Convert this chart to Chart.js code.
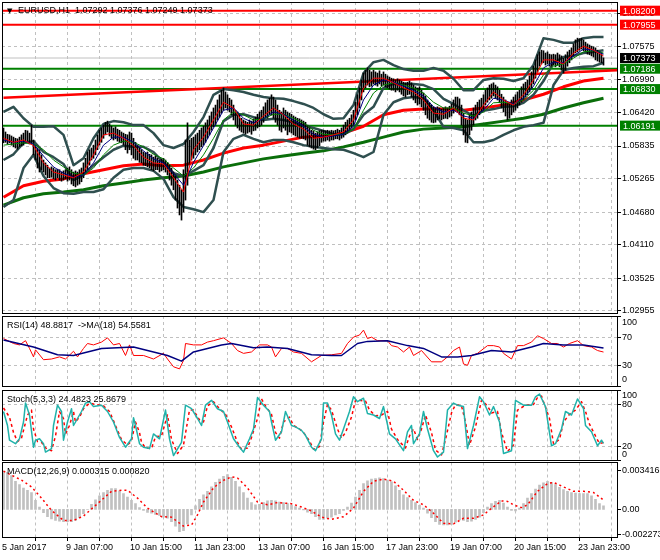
<!DOCTYPE html>
<html>
<head>
<meta charset="utf-8">
<title>EURUSD,H1</title>
<script src="https://cdn.jsdelivr.net/npm/chart.js@4.4.1/dist/chart.umd.min.js"></script>
<style>
  html, body { margin: 0; padding: 0; background: #fff; }
  #wrap { position: relative; width: 660px; height: 560px; overflow: hidden; background: #fff; }
  #wrap canvas { position: absolute; left: 0; }
</style>
</head>
<body>
<div id="wrap">
  <canvas id="cMain" width="660" height="316" style="top:0px"></canvas>
  <canvas id="cRsi" width="660" height="75" style="top:314px"></canvas>
  <canvas id="cSto" width="660" height="75" style="top:388px"></canvas>
  <canvas id="cMacd" width="660" height="99" style="top:461px"></canvas>
</div>
<script>
// H1 bars, 5 Jan 23:00 .. 24 Jan 11:00 (one per hour)
const highs = [
1.0615,1.0608,1.0604,1.0603,1.0601,1.0599,1.0597,1.0596,1.0599,1.0603,
1.0606,1.0611,1.0610,1.0606,1.0620,1.0594,1.0585,1.0580,1.0577,1.0568,
1.0559,1.0554,1.0550,1.0545,1.0547,1.0545,1.0542,1.0543,1.0542,1.0538,
1.0540,1.0542,1.0545,1.0547,1.0542,1.0538,1.0540,1.0538,1.0542,1.0545,
1.0554,1.0562,1.0573,1.0577,1.0580,1.0585,1.0594,1.0603,1.0611,1.0615,
1.0620,1.0625,1.0627,1.0622,1.0618,1.0615,1.0617,1.0613,1.0611,1.0608,
1.0606,1.0604,1.0603,1.0608,1.0606,1.0597,1.0590,1.0585,1.0580,1.0577,
1.0573,1.0571,1.0573,1.0569,1.0568,1.0564,1.0566,1.0562,1.0559,1.0561,
1.0562,1.0559,1.0555,1.0550,1.0545,1.0538,1.0533,1.0524,1.0515,1.0507,
1.0542,1.0594,1.0624,1.0594,1.0597,1.0599,1.0603,1.0606,1.0611,1.0615,
1.0618,1.0624,1.0629,1.0636,1.0643,1.0650,1.0655,1.0664,1.0673,1.0681,
1.0685,1.0678,1.0673,1.0667,1.0664,1.0655,1.0646,1.0643,1.0638,1.0632,
1.0629,1.0627,1.0625,1.0629,1.0627,1.0631,1.0634,1.0639,1.0643,1.0646,
1.0652,1.0659,1.0664,1.0667,1.0673,1.0669,1.0664,1.0655,1.0646,1.0643,
1.0650,1.0646,1.0643,1.0641,1.0639,1.0636,1.0634,1.0632,1.0631,1.0629,
1.0627,1.0625,1.0620,1.0617,1.0611,1.0610,1.0606,1.0608,1.0610,1.0611,
1.0611,1.0610,1.0611,1.0610,1.0611,1.0610,1.0611,1.0613,1.0611,1.0615,
1.0620,1.0625,1.0629,1.0632,1.0638,1.0646,1.0660,1.0673,1.0685,1.0699,
1.0711,1.0716,1.0720,1.0716,1.0713,1.0716,1.0713,1.0711,1.0715,1.0709,
1.0713,1.0709,1.0706,1.0704,1.0702,1.0701,1.0699,1.0701,1.0699,1.0697,
1.0695,1.0694,1.0695,1.0697,1.0694,1.0690,1.0687,1.0685,1.0687,1.0681,
1.0676,1.0671,1.0664,1.0659,1.0655,1.0652,1.0650,1.0652,1.0650,1.0648,
1.0650,1.0652,1.0650,1.0653,1.0657,1.0664,1.0669,1.0669,1.0666,1.0655,
1.0641,1.0632,1.0629,1.0638,1.0643,1.0650,1.0655,1.0660,1.0664,1.0667,
1.0673,1.0681,1.0685,1.0690,1.0692,1.0694,1.0690,1.0687,1.0681,1.0674,
1.0669,1.0664,1.0659,1.0660,1.0664,1.0669,1.0673,1.0678,1.0681,1.0687,
1.0692,1.0695,1.0699,1.0706,1.0713,1.0723,1.0734,1.0743,1.0748,1.0751,
1.0750,1.0746,1.0748,1.0744,1.0743,1.0744,1.0743,1.0746,1.0743,1.0741,
1.0737,1.0743,1.0748,1.0751,1.0755,1.0762,1.0769,1.0772,1.0771,1.0772,
1.0769,1.0765,1.0762,1.0760,1.0758,1.0757,1.0755,1.0751,1.0748,1.0746,
1.07376];
const lows = [
1.0589,1.0590,1.0587,1.0589,1.0585,1.0582,1.0580,1.0578,1.0582,1.0584,
1.0585,1.0590,1.0592,1.0587,1.0589,1.0568,1.0559,1.0545,1.0538,1.0542,
1.0538,1.0533,1.0528,1.0528,1.0529,1.0526,1.0524,1.0528,1.0524,1.0522,
1.0524,1.0526,1.0522,1.0524,1.0517,1.0514,1.0512,1.0515,1.0517,1.0521,
1.0528,1.0536,1.0542,1.0550,1.0559,1.0562,1.0568,1.0577,1.0585,1.0590,
1.0597,1.0603,1.0608,1.0601,1.0597,1.0594,1.0596,1.0592,1.0590,1.0589,
1.0585,1.0577,1.0571,1.0577,1.0568,1.0562,1.0559,1.0559,1.0555,1.0554,
1.0550,1.0549,1.0547,1.0545,1.0542,1.0540,1.0542,1.0542,1.0538,1.0540,
1.0542,1.0538,1.0533,1.0524,1.0515,1.0507,1.0489,1.0475,1.0463,1.0454,
1.0468,1.0489,1.0515,1.0550,1.0559,1.0562,1.0568,1.0573,1.0577,1.0582,
1.0585,1.0590,1.0597,1.0603,1.0611,1.0617,1.0620,1.0629,1.0634,1.0641,
1.0646,1.0650,1.0646,1.0643,1.0638,1.0629,1.0620,1.0615,1.0611,1.0608,
1.0606,1.0604,1.0606,1.0608,1.0604,1.0610,1.0611,1.0615,1.0617,1.0620,
1.0625,1.0632,1.0632,1.0638,1.0638,1.0632,1.0625,1.0620,1.0611,1.0608,
1.0615,1.0611,1.0603,1.0608,1.0606,1.0603,1.0601,1.0599,1.0597,1.0597,
1.0596,1.0594,1.0585,1.0582,1.0580,1.0578,1.0577,1.0580,1.0584,1.0590,
1.0592,1.0592,1.0594,1.0592,1.0594,1.0594,1.0596,1.0596,1.0594,1.0597,
1.0599,1.0603,1.0606,1.0611,1.0615,1.0620,1.0629,1.0638,1.0650,1.0664,
1.0678,1.0685,1.0690,1.0687,1.0688,1.0692,1.0690,1.0688,1.0692,1.0688,
1.0690,1.0687,1.0685,1.0683,1.0681,1.0681,1.0678,1.0681,1.0678,1.0674,
1.0671,1.0669,1.0673,1.0674,1.0669,1.0664,1.0659,1.0655,1.0657,1.0652,
1.0646,1.0638,1.0632,1.0629,1.0625,1.0624,1.0625,1.0629,1.0631,1.0629,
1.0631,1.0632,1.0631,1.0634,1.0636,1.0641,1.0646,1.0643,1.0638,1.0620,
1.0603,1.0590,1.0589,1.0603,1.0611,1.0620,1.0629,1.0632,1.0638,1.0643,
1.0646,1.0655,1.0660,1.0664,1.0667,1.0671,1.0667,1.0664,1.0659,1.0650,
1.0643,1.0636,1.0629,1.0632,1.0638,1.0643,1.0646,1.0650,1.0655,1.0660,
1.0664,1.0669,1.0673,1.0678,1.0685,1.0692,1.0702,1.0713,1.0723,1.0727,
1.0729,1.0725,1.0727,1.0723,1.0723,1.0725,1.0722,1.0725,1.0722,1.0716,
1.0711,1.0716,1.0723,1.0729,1.0734,1.0741,1.0746,1.0748,1.0751,1.0753,
1.0750,1.0748,1.0744,1.0743,1.0741,1.0739,1.0734,1.0732,1.0730,1.0729,
1.07249];
const barIdx = highs.map((_, i) => i);

// Bollinger bands and short MAs, read every 5 bars
const ovIdx = barIdx.filter(i => i % 5 === 0);
const bbUpper = [
1.0643,1.0652,1.0632,1.0617,1.0617,1.0618,1.0603,1.0550,1.0562,1.0597,
1.0622,1.0627,1.0625,1.0620,1.0620,1.0606,1.0585,1.0580,1.0587,1.0608,
1.0634,1.0673,1.0683,1.0681,1.0678,1.0673,1.0669,1.0667,1.0666,1.0662,
1.0657,1.0650,1.0639,1.0631,1.0632,1.0655,1.0711,1.0730,1.0734,1.0725,
1.0718,1.0715,1.0715,1.0720,1.0715,1.0701,1.0681,1.0681,1.0699,1.0702,
1.0701,1.0697,1.0702,1.0725,1.0772,1.0769,1.0764,1.0764,1.0772,1.0774,
1.0774];
const bbMid = [
1.0559,1.0569,1.0589,1.0592,1.0573,1.0564,1.0552,1.0524,1.0533,1.0550,
1.0564,1.0577,1.0584,1.0582,1.0582,1.0573,1.0555,1.0536,1.0531,1.0540,
1.0550,1.0580,1.0627,1.0638,1.0639,1.0634,1.0629,1.0631,1.0629,1.0625,
1.0620,1.0615,1.0610,1.0604,1.0604,1.0613,1.0638,1.0652,1.0685,1.0692,
1.0692,1.0692,1.0690,1.0683,1.0666,1.0657,1.0646,1.0636,1.0645,1.0648,
1.0652,1.0653,1.0659,1.0673,1.0697,1.0729,1.0739,1.0741,1.0746,1.0748,
1.0751];
const bbLower = [
1.0477,1.0489,1.0545,1.0568,1.0531,1.0510,1.0501,1.0500,1.0503,1.0503,
1.0508,1.0528,1.0542,1.0545,1.0545,1.0540,1.0526,1.0494,1.0477,1.0473,
1.0468,1.0489,1.0573,1.0596,1.0603,1.0596,1.0590,1.0594,1.0594,1.0590,
1.0585,1.0582,1.0580,1.0578,1.0577,1.0571,1.0564,1.0573,1.0638,1.0660,
1.0667,1.0669,1.0667,1.0646,1.0617,1.0615,1.0611,1.0590,1.0590,1.0594,
1.0603,1.0611,1.0617,1.0620,1.0624,1.0690,1.0716,1.0720,1.0722,1.0723,
1.0729];
const maFast = [
1.0597,1.0590,1.0594,1.0584,1.0554,1.0538,1.0533,1.0528,1.0538,1.0568,
1.0603,1.0606,1.0597,1.0584,1.0564,1.0554,1.0552,1.0528,1.0503,1.0577,
1.0599,1.0629,1.0660,1.0650,1.0622,1.0620,1.0636,1.0650,1.0638,1.0622,
1.0613,1.0597,1.0599,1.0603,1.0608,1.0629,1.0685,1.0702,1.0702,1.0694,
1.0685,1.0678,1.0664,1.0641,1.0639,1.0650,1.0632,1.0629,1.0655,1.0678,
1.0664,1.0655,1.0673,1.0699,1.0734,1.0734,1.0727,1.0746,1.0758,1.0751,
1.0741];
const maMid = [
1.0594,1.0590,1.0592,1.0587,1.0566,1.0547,1.0536,1.0529,1.0533,1.0554,
1.0585,1.0599,1.0599,1.0590,1.0575,1.0561,1.0554,1.0536,1.0515,1.0555,
1.0584,1.0615,1.0646,1.0650,1.0632,1.0624,1.0631,1.0643,1.0639,1.0629,
1.0618,1.0604,1.0599,1.0601,1.0604,1.0618,1.0664,1.0690,1.0699,1.0695,
1.0688,1.0681,1.0671,1.0652,1.0643,1.0646,1.0636,1.0632,1.0646,1.0667,
1.0664,1.0657,1.0667,1.0688,1.0720,1.0730,1.0729,1.0741,1.0753,1.0751,
1.0744];
const maSlow = [
1.0585,1.0587,1.0589,1.0587,1.0577,1.0559,1.0547,1.0536,1.0533,1.0545,
1.0568,1.0585,1.0592,1.0590,1.0582,1.0569,1.0561,1.0545,1.0531,1.0545,
1.0568,1.0597,1.0629,1.0643,1.0638,1.0629,1.0631,1.0639,1.0639,1.0632,
1.0624,1.0611,1.0604,1.0603,1.0604,1.0613,1.0646,1.0676,1.0690,1.0694,
1.0690,1.0685,1.0676,1.0660,1.0650,1.0650,1.0641,1.0636,1.0643,1.0659,
1.0660,1.0657,1.0664,1.0681,1.0708,1.0723,1.0727,1.0737,1.0748,1.0750,
1.0746];

// long MAs, read every 10 bars
const maLongIdx = barIdx.filter(i => i % 10 === 0);
const smaRed = [
1.0494,1.0514,1.0522,1.0526,1.0535,1.0542,1.0549,1.0552,1.0549,1.0550,
1.0559,1.0571,1.0580,1.0585,1.0592,1.0599,1.0601,1.0606,1.0618,1.0638,
1.0646,1.0648,1.0648,1.0646,1.0650,1.0655,1.0664,1.0674,1.0687,1.0697,
1.0702];
const smaGreen = [
1.0480,1.0493,1.0500,1.0503,1.0507,1.0514,1.0519,1.0524,1.0528,1.0531,
1.0538,1.0547,1.0554,1.0561,1.0566,1.0571,1.0575,1.0582,1.0590,1.0599,
1.0608,1.0613,1.0615,1.0617,1.0622,1.0627,1.0632,1.0639,1.0650,1.0659,
1.0667];

// levels and trend line
const levelPrices = [1.08200, 1.07955, 1.07186, 1.06830, 1.06191];
const levelColors = ['#ff0000', '#ff0000', '#008000', '#008000', '#008000'];
const lastPrice = 1.07373;
const trendIdx = [0, 306.75];
const trendVal = [1.0668, 1.0716];

// RSI(14) and its MA(18)
const rsiIdx = [0,5,8,11,13,15,16,20,24,28,31,35,37,40,42,45,49,52,55,58,61,63,65,70,75,80,82,85,88,90,
  91,95,99,102,105,110,114,117,120,124,128,132,134,136,139,142,145,149,154,159,164,169,172,175,178,180,182,184,187,192,
  194,197,200,203,205,209,214,219,222,225,228,230,232,234,237,242,245,248,250,254,257,260,264,267,270,274,277,280,283,287,
  290,294,297,300];
const rsiVal = [68,61,59,65,54,42,52,38,39,42,39,50,42,54,61,59,63,69,59,61,44,59,44,44,39,47,39,28,25,37,
  61,59,59,63,65,69,61,51,47,49,59,59,56,42,54,54,49,47,35,44,45,47,61,70,73,80,68,70,65,65,
  58,56,49,56,44,51,35,35,42,51,56,32,30,44,47,58,58,56,47,39,58,58,63,72,68,61,61,56,61,65,
  58,56,51,48.88];
const rsiMaIdx = [0,15,27,35,49,65,82,89,95,109,114,125,132,142,154,164,169,177,182,192,202,210,219,227,234,244,254,264,270,280,290,300];
const rsiMaVal = [66,56,45,44,54,56,44,36,49,59,61,55,56,54,45,44,44,61,64,65,58,54,42,42,44,51,49,56,61,59,59,54.56];

// Stochastic(5,3,3)
const stoIdx = [0,2,3,6,8,10,11,13,15,16,18,20,21,24,25,27,29,30,32,34,35,37,39,41,43,45,49,52,55,58,
  61,64,65,66,68,70,73,75,78,81,83,85,89,91,94,97,99,101,104,107,110,112,115,118,120,123,125,127,130,133,
  134,136,139,141,144,146,149,151,154,156,159,160,162,164,166,168,170,173,175,177,180,182,185,188,190,193,196,200,202,204,
  205,208,210,212,215,217,220,222,225,227,230,232,235,238,240,243,245,248,250,254,256,260,264,266,268,271,274,276,279,281,
  284,287,290,291,294,297,299,300];
const stoMain = [70,50,29,24,31,55,82,65,19,29,31,24,12,17,50,79,70,29,55,74,50,60,70,82,84,77,79,70,55,33,
  19,31,61,50,24,19,17,38,31,72,31,7,26,79,74,60,50,79,86,74,70,55,31,19,12,31,45,90,79,70,
  55,29,41,70,50,48,43,36,19,14,31,82,82,65,38,29,45,70,91,84,89,67,65,60,77,38,31,14,41,50,
  24,38,70,45,14,5,12,72,82,79,77,17,50,91,84,65,77,55,10,14,86,79,79,91,95,77,21,24,45,70,
  65,88,74,50,41,21,29,24.48];
const stoSigIdx = [0,3,5,7,9,12,14,15,17,19,21,24,26,28,30,31,33,35,36,38,40,43,46,50,53,56,59,62,64,66,
  68,69,71,74,76,79,82,84,87,90,93,95,98,100,102,105,108,111,114,117,119,122,124,127,129,131,134,136,138,140,
  143,145,148,150,153,155,158,160,162,164,167,169,171,174,176,178,181,183,186,189,192,194,197,201,203,205,207,209,211,214,
  216,219,221,224,226,229,231,233,236,239,242,244,247,249,252,255,257,261,265,267,269,273,275,278,280,283,286,289,291,293,
  296,298,300];
const stoSignal = [75,62,40,27,32,65,72,45,27,26,18,14,35,70,60,38,50,70,55,62,74,82,80,78,70,50,30,22,28,55,
  40,26,18,17,34,35,65,30,10,22,72,72,58,55,78,84,74,66,48,26,16,18,33,60,88,78,66,40,32,55,
  62,50,45,40,28,16,20,55,80,72,45,32,40,62,86,86,85,72,64,65,70,45,30,18,35,45,30,45,65,40,
  15,8,30,68,80,78,55,22,48,86,78,68,70,40,13,22,72,79,80,90,92,60,24,30,55,66,72,84,70,52,
  35,24,25.87];

// MACD(12,26,9): histogram read every 2 bars, signal line
const histIdx = barIdx.filter(i => i % 2 === 0);
const macdHist = [
0.00340,0.00330,0.00300,0.00250,0.00220,0.00190,0.00170,0.00150,0.00080,0.00020,
-0.00030,-0.00065,-0.00085,-0.00100,-0.00105,-0.00110,-0.00110,-0.00110,-0.00100,-0.00075,
-0.00040,0.00000,0.00045,0.00085,0.00120,0.00150,0.00170,0.00185,0.00185,0.00165,
0.00140,0.00110,0.00080,0.00050,0.00015,-0.00010,-0.00027,-0.00035,-0.00045,-0.00055,
-0.00070,-0.00080,-0.00110,-0.00150,-0.00200,-0.00190,-0.00130,-0.00050,0.00030,0.00090,
0.00130,0.00160,0.00200,0.00240,0.00270,0.00295,0.00310,0.00285,0.00250,0.00200,
0.00150,0.00100,0.00060,0.00040,0.00045,0.00060,0.00075,0.00080,0.00075,0.00065,
0.00060,0.00050,0.00040,0.00025,0.00010,-0.00005,-0.00025,-0.00040,-0.00065,-0.00090,
-0.00090,-0.00080,-0.00070,-0.00050,-0.00040,-0.00010,0.00020,0.00055,0.00110,0.00170,
0.00230,0.00255,0.00270,0.00275,0.00280,0.00275,0.00260,0.00245,0.00210,0.00170,
0.00130,0.00105,0.00080,0.00060,0.00035,0.00010,-0.00035,-0.00075,-0.00110,-0.00135,
-0.00140,-0.00140,-0.00135,-0.00115,-0.00095,-0.00100,-0.00110,-0.00105,-0.00090,-0.00070,
-0.00030,0.00020,0.00050,0.00070,0.00080,0.00055,0.00020,-0.00010,-0.00015,0.00010,
0.00050,0.00100,0.00140,0.00180,0.00215,0.00235,0.00250,0.00240,0.00220,0.00195,
0.00175,0.00160,0.00150,0.00145,0.00140,0.00140,0.00140,0.00120,0.00090,0.00050,
0.000315];
const macdSigIdx = [0,9,14,19,24,30,35,40,47,54,59,62,67,72,79,84,90,94,97,100,105,109,114,117,122,127,132,137,144,149,
  154,159,164,170,175,180,185,190,195,200,205,210,215,220,225,230,235,240,244,249,252,255,259,262,267,272,275,280,285,290,295,300];
const macdSignal = [0.0034,0.0026,0.0020,0.0010,-0.0001,-0.0010,-0.0010,-0.0006,0.0005,0.0016,
  0.0017,0.0017,0.0010,0.0001,-0.00066,-0.0007,-0.0015,-0.0014,-0.0005,0.00065,
  0.0019,0.0025,0.0029,0.0028,0.0019,0.00065,0.0004,0.0006,0.0005,0.0002,
  -0.00015,-0.0007,-0.0009,-0.00066,0.0001,0.0016,0.0025,0.0027,0.0025,0.0017,
  0.0008,0.0004,-0.00035,-0.00125,-0.0013,-0.0008,-0.0008,-0.0005,0.0001,0.00075,
  0.0007,0.0004,0.00015,0.0004,0.0016,0.0023,0.0024,0.0020,0.0016,0.0016,0.0015,0.00082];

// axes
const priceTicks = [1.08145, 1.07575, 1.06990, 1.06420, 1.05835, 1.05265, 1.04680, 1.04110, 1.03525, 1.02955];
const gridIdx = [16,32,48,64,80,96,112,128,144,160,176,192,208,224,240,256,272,288,304];
const timeIdx = [0, 32, 64, 96, 128, 160, 192, 224, 256, 288];
const timeText = ['5 Jan 2017','9 Jan 07:00','10 Jan 15:00','11 Jan 23:00','13 Jan 07:00',
  '16 Jan 15:00','17 Jan 23:00','19 Jan 07:00','20 Jan 15:00','23 Jan 23:00'];

const FONT = '9px "Liberation Sans", Arial, sans-serif';
const X_MIN = -0.75, X_MAX = 306.75;

const line = (idx, vals, color, width, extra = {}) => ({
  type: 'line',
  data: idx.map((x, k) => ({ x, y: vals[k] })),
  borderColor: color, borderWidth: width, pointRadius: 0, fill: false,
  tension: 0, borderJoinStyle: 'round', ...extra
});

function panel(cfg) {
  return {
    id: 'mtPanel',
    beforeDatasetsDraw(chart) {
      const { ctx, chartArea: a, scales: { x, y } } = chart;
      ctx.save();
      ctx.strokeStyle = '#c0c0c0';
      ctx.lineWidth = 1;
      ctx.setLineDash([3, 3]);
      ctx.beginPath();
      gridIdx.forEach(i => {
        const px = Math.floor(x.getPixelForValue(i)) + 0.5;
        ctx.moveTo(px, a.top); ctx.lineTo(px, a.bottom);
      });
      cfg.grid.forEach(v => {
        const py = Math.floor(y.getPixelForValue(v)) + 0.5;
        ctx.moveTo(a.left, py); ctx.lineTo(a.right, py);
      });
      ctx.stroke();
      ctx.restore();
    },
    afterDatasetsDraw(chart) {
      const { ctx, chartArea: a, scales: { x, y } } = chart;
      const L = Math.floor(a.left), R = Math.floor(a.right), T = Math.floor(a.top), B = Math.floor(a.bottom);
      ctx.save();
      ctx.font = FONT;
      ctx.textBaseline = 'middle';
      ctx.textAlign = 'left';
      ctx.strokeStyle = '#000';
      ctx.lineWidth = 1;
      ctx.strokeRect(L + 0.5, T + 0.5, R - L, B - T);

      ctx.fillStyle = '#000';
      cfg.ticks.forEach((v, k) => {
        const py = y.getPixelForValue(v);
        ctx.beginPath();
        ctx.moveTo(R, Math.floor(py) + 0.5); ctx.lineTo(R + 4, Math.floor(py) + 0.5);
        ctx.stroke();
        const ty = Math.min(Math.max(py, a.top + cfg.clamp), a.bottom - cfg.clamp);
        ctx.fillText(cfg.tickText[k], R + 5, ty);
      });

      (cfg.boxes || []).forEach(b => {
        const py = y.getPixelForValue(b.v);
        ctx.fillStyle = b.c;
        ctx.fillRect(R + 3, py - 5, 43, 10);
        ctx.fillStyle = '#fff';
        ctx.fillText(b.v.toFixed(5), R + 6, py + 0.5);
      });

      ctx.fillStyle = '#000';
      if (cfg.marker) {
        ctx.font = '7px "DejaVu Sans", sans-serif';
        ctx.fillText('\u25BC', 7, a.top + 9);
        ctx.font = FONT;
      }
      ctx.fillText(cfg.title, cfg.titleX, a.top + cfg.titleDy);

      if (cfg.xLabels) {
        ctx.beginPath();
        gridIdx.forEach(i => {
          const px = Math.floor(x.getPixelForValue(i)) + 0.5;
          ctx.moveTo(px, B); ctx.lineTo(px, B + 4);
        });
        ctx.stroke();
        timeIdx.forEach((i, k) => {
          const px = Math.floor(x.getPixelForValue(i)) - 1;
          ctx.fillText(timeText[k], px, B + 11);
        });
      }
      ctx.restore();
    }
  };
}

function makeChart(id, datasets, yMin, yMax, pad, cfg) {
  datasets.forEach((d, k) => { d.order = datasets.length - k; });
  return new Chart(document.getElementById(id), {
    type: 'line',
    data: { datasets },
    options: {
      responsive: false, animation: false, events: [], devicePixelRatio: 1,
      layout: { padding: { left: 2, right: 43, top: pad[0], bottom: pad[1] } },
      plugins: { legend: { display: false }, tooltip: { enabled: false } },
      scales: {
        x: { type: 'linear', display: false, offset: false, min: X_MIN, max: X_MAX },
        y: { type: 'linear', display: false, min: yMin, max: yMax }
      }
    },
    plugins: [panel(cfg)]
  });
}

// ---- main price window
const mainSets = [];
levelPrices.forEach((p, k) => mainSets.push(line([X_MIN, X_MAX], [p, p], levelColors[k], 2)));
mainSets.push(line([X_MIN, X_MAX], [lastPrice, lastPrice], '#c0c0c0', 1));
mainSets.push(line(trendIdx, trendVal, '#ff0000', 2.5));
mainSets.push(line(maLongIdx, smaGreen, '#0a6e0a', 3));
mainSets.push(line(maLongIdx, smaRed, '#ff0000', 3));
mainSets.push(line(ovIdx, bbUpper, '#2f4f4f', 2.5));
mainSets.push(line(ovIdx, bbMid, '#2f4f4f', 2.5));
mainSets.push(line(ovIdx, bbLower, '#2f4f4f', 2.5));
mainSets.push({
  type: 'bar',
  data: barIdx.map(i => ({ x: i, y: [lows[i], highs[i]] })),
  backgroundColor: '#000', barThickness: 1, borderWidth: 0, grouped: false
});
mainSets.push(line(ovIdx, maSlow, '#008000', 1));
mainSets.push(line(ovIdx, maMid, '#000080', 1));
mainSets.push(line(ovIdx, maFast, '#ff0000', 1));

makeChart('cMain', mainSets, 1.02916, 1.08352, [2, 3], {
  title: 'EURUSD,H1  1.07292 1.07376 1.07249 1.07373', titleX: 18, titleDy: 8.5, marker: true,
  ticks: priceTicks, tickText: priceTicks.map(v => v.toFixed(5)), grid: priceTicks, clamp: 0,
  boxes: levelPrices.map((v, k) => ({ v, c: levelColors[k] })).concat([{ v: lastPrice, c: '#000' }])
});

// ---- RSI window
makeChart('cRsi', [
  line(rsiIdx, rsiVal, '#ff0000', 1),
  line(rsiMaIdx, rsiMaVal, '#000080', 1.5)
], 0, 100, [2, 2.5], {
  title: 'RSI(14) 48.8817  ->MA(18) 54.5581', titleX: 7, titleDy: 9.5,
  ticks: [100, 70, 30, 0], tickText: ['100', '70', '30', '0'], grid: [70, 30], clamp: 6.5
});

// ---- Stochastic window
makeChart('cSto', [
  line(stoSigIdx, stoSignal, '#ff0000', 1.5, { borderDash: [3, 3] }),
  line(stoIdx, stoMain, '#20b2aa', 1.5)
], 0, 100, [2.5, 2.5], {
  title: 'Stoch(5,3,3) 24.4823 25.8679', titleX: 7, titleDy: 9,
  ticks: [100, 80, 20, 0], tickText: ['100', '80', '20', '0'], grid: [80, 20], clamp: 5.5
});

// ---- MACD window
makeChart('cMacd', [
  {
    type: 'bar',
    data: histIdx.map((i, k) => ({ x: i, y: macdHist[k] })),
    backgroundColor: '#c0c0c0', barThickness: 2, borderWidth: 0, grouped: false
  },
  line(macdSigIdx, macdSignal, '#ff0000', 1.5, { borderDash: [2, 3] })
], -0.002515, 0.004174, [1.5, 22.5], {
  title: 'MACD(12,26,9) 0.000315 0.000820', titleX: 7, titleDy: 9,
  ticks: [0.003416, 0, -0.002273], tickText: ['0.003416', '0.00', '-0.002273'], grid: [], clamp: 3,
  xLabels: true
});
</script>
</body>
</html>
